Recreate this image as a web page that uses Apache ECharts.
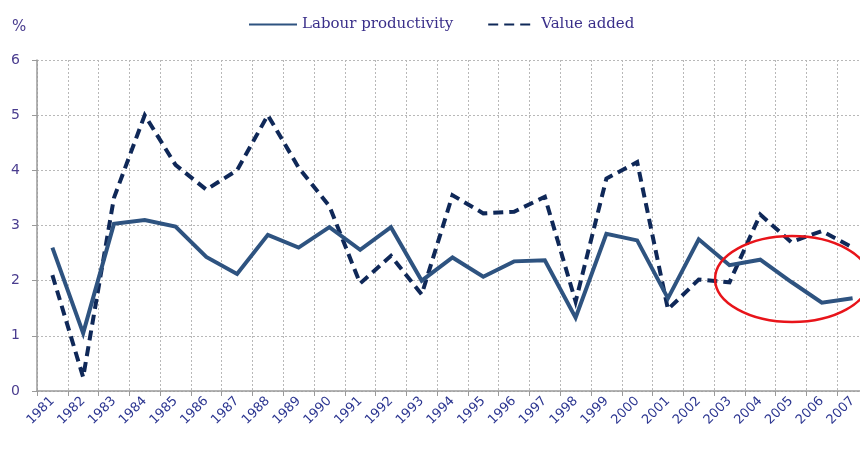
<!DOCTYPE html>
<html>
<head>
<meta charset="utf-8">
<script src="https://cdn.jsdelivr.net/npm/echarts@6/dist/echarts.min.js"></script>
<style>
  html, body { margin: 0; padding: 0; background: #fff; }
  #chart { width: 860px; height: 451px; }
</style>
</head>
<body>
<div id="chart"></div>
<script>
// Annual growth rates, %
const years = ['1981','1982','1983','1984','1985','1986','1987','1988','1989','1990',
  '1991','1992','1993','1994','1995','1996','1997','1998','1999','2000',
  '2001','2002','2003','2004','2005','2006','2007'];
const labourProductivity = [2.6, 1.05, 3.03, 3.1, 2.98, 2.43, 2.12, 2.83, 2.6, 2.97,
  2.56, 2.97, 2.0, 2.42, 2.07, 2.35, 2.37, 1.33, 2.85, 2.73,
  1.68, 2.75, 2.28, 2.38, 1.98, 1.6, 1.68];
const valueAdded = [2.1, 0.25, 3.5, 5.0, 4.1, 3.65, 4.0, 5.0, 4.05, 3.35,
  1.95, 2.45, 1.75, 3.55, 3.22, 3.25, 3.52, 1.62, 3.85, 4.15,
  1.48, 2.02, 1.97, 3.2, 2.7, 2.9, 2.6];
const yTicks = [0, 1, 2, 3, 4, 5, 6];

const chart = echarts.init(document.getElementById('chart'));
const gridLine = { lineStyle: { color: '#b8b8b8', type: [2, 2], width: 1 } };

chart.setOption({
  animation: false,
  backgroundColor: '#fff',
  legend: {
    top: 12,
    left: 243,
    itemWidth: 48,
    itemHeight: 14,
    itemGap: 34,
    itemStyle: { opacity: 0 },
    textStyle: { fontFamily: 'DejaVu Serif', fontSize: 15, color: '#3a2f8a' },
    data: ['Labour productivity', 'Value added']
  },
  grid: { left: 37, right: -8, top: 60, bottom: 60, outerBoundsMode: 'none', containLabel: false },
  xAxis: {
    type: 'category',
    data: years,
    boundaryGap: true,
    axisLine: { lineStyle: { color: '#9a9a9a', width: 1.5 } },
    axisTick: { show: true, length: 5, lineStyle: { color: '#9a9a9a' } },
    axisLabel: {
      rotate: 45, margin: 8, interval: 0,
      fontFamily: 'DejaVu Sans', fontSize: 13, color: '#2b3590'
    },
    splitLine: { show: true, ...gridLine }
  },
  yAxis: {
    type: 'value',
    min: yTicks[0], max: yTicks[yTicks.length - 1], interval: 1,
    axisLine: { show: true, lineStyle: { color: '#9a9a9a', width: 1.5 } },
    axisTick: { show: true, length: 5, lineStyle: { color: '#9a9a9a' } },
    axisLabel: { margin: 17, fontFamily: 'DejaVu Sans', fontSize: 14, color: '#4a3d8f' },
    splitLine: { show: true, ...gridLine }
  },
  series: [
    {
      name: 'Labour productivity',
      type: 'line',
      data: labourProductivity,
      symbol: 'none',
      color: '#2e5380',
      lineStyle: { width: 4, color: '#2e5380', join: 'miter' },
      z: 3
    },
    {
      name: 'Value added',
      type: 'line',
      data: valueAdded,
      symbol: 'none',
      color: '#0f2858',
      lineStyle: { width: 4, color: '#0f2858', type: [10, 6], join: 'miter' },
      z: 2
    }
  ]
});

// Unit label above the value axis and the highlight ring around the last years
const c = chart.convertToPixel({ gridIndex: 0 }, ['2005', 2.03]);
chart.setOption({
  graphic: [
    {
      type: 'text', left: 12, top: 20,
      style: { text: '%', fontFamily: 'DejaVu Sans', fontSize: 15, fill: '#4a3d8f' }
    },
    {
      type: 'ellipse',
      shape: { cx: c[0] + 1, cy: c[1], rx: 77, ry: 43 },
      style: { fill: 'none', stroke: '#e8141a', lineWidth: 2.5 },
      z: 10
    }
  ]
});
</script>
</body>
</html>
